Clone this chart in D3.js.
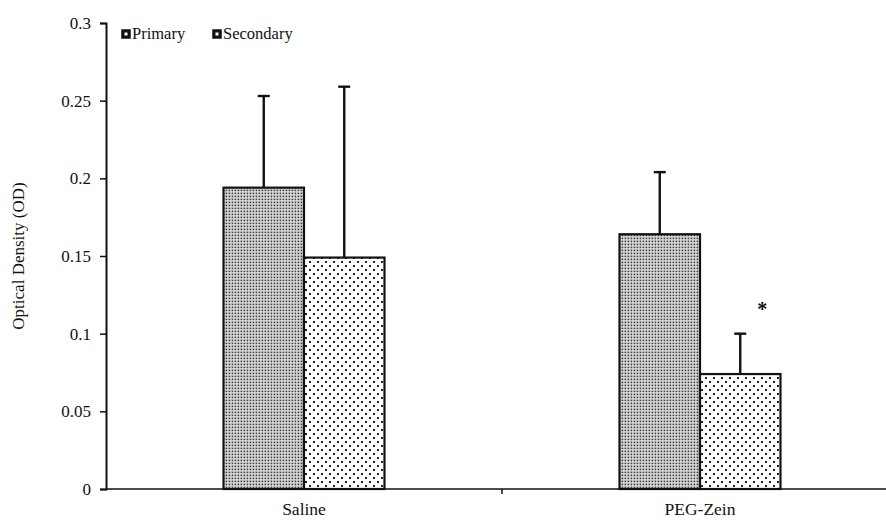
<!DOCTYPE html>
<html>
<head>
<meta charset="utf-8">
<script src="https://cdn.jsdelivr.net/npm/d3@7"></script>
<style>
  body { margin: 0; background: #fff; }
  text { font-family: "Liberation Serif", "Times New Roman", serif; fill: #111; }
</style>
</head>
<body>
<div id="chart"></div>
<script>
var categories = ["Saline", "PEG-Zein"];
var seriesNames = ["Primary", "Secondary"];
var primaryMeans = [0.194, 0.164];
var primaryErr = [0.059, 0.040];
var secondaryMeans = [0.149, 0.074];
var secondaryErr = [0.110, 0.026];
var yTicks = [0, 0.05, 0.1, 0.15, 0.2, 0.25, 0.3];
var yTickLabels = ["0", "0.05", "0.1", "0.15", "0.2", "0.25", "0.3"];
var marks = [{cat: "PEG-Zein", ser: "Secondary", text: "*"}];

var W = 886, H = 520;
var plotLeft = 106, plotBottom = 489, plotTop = 23, plotRight = 898;

var svg = d3.select("#chart").append("svg")
	.attr("width", W)
	.attr("height", H);

var defs = svg.append("defs");
var p1 = defs.append("pattern")
	.attr("id", "patPrimary")
	.attr("patternUnits", "userSpaceOnUse")
	.attr("width", 3).attr("height", 3);
p1.append("rect").attr("width", 3).attr("height", 3).attr("fill", "#dedede");
p1.append("rect").attr("x", 0.6).attr("y", 0.6).attr("width", 1.6).attr("height", 1.6).attr("fill", "#3a3a3a");

var p2 = defs.append("pattern")
	.attr("id", "patSecondary")
	.attr("patternUnits", "userSpaceOnUse")
	.attr("width", 8).attr("height", 8);
p2.append("rect").attr("width", 8).attr("height", 8).attr("fill", "#fff");
p2.append("rect").attr("x", 1).attr("y", 1).attr("width", 2).attr("height", 2).attr("fill", "#222");
p2.append("rect").attr("x", 5).attr("y", 5).attr("width", 2).attr("height", 2).attr("fill", "#222");

var fills = {"Primary": "url(#patPrimary)", "Secondary": "url(#patSecondary)"};

var x = d3.scaleBand()
	.domain(categories)
	.range([plotLeft, plotRight]);

var xs = d3.scaleBand()
	.domain(seriesNames)
	.range([0, x.bandwidth()])
	.paddingOuter(1.46);

var y = d3.scaleLinear()
	.domain([0, 0.3])
	.range([plotBottom, plotTop]);

// y axis
var yAxis = svg.append("g")
	.attr("transform", "translate(" + plotLeft + ",0)")
	.call(d3.axisLeft(y).tickValues(yTicks).tickSize(6)
		.tickFormat(function(d, i) { return yTickLabels[i]; }));
yAxis.select(".domain").attr("stroke", "#111").attr("stroke-width", 2);
yAxis.selectAll(".tick line").attr("stroke", "#111").attr("stroke-width", 1.5);
yAxis.selectAll(".tick text")
	.attr("x", -15)
	.style("font-family", "Liberation Serif, serif")
	.style("font-size", "17px")
	.attr("fill", "#111");

svg.append("text")
	.attr("transform", "translate(24," + ((plotTop + plotBottom) / 2) + ") rotate(-90)")
	.attr("text-anchor", "middle")
	.style("font-size", "17px")
	.text("Optical Density (OD)");

// data table
var rows = [];
categories.forEach(function(c, i) {
	rows.push({cat: c, ser: "Primary", v: primaryMeans[i], e: primaryErr[i]});
	rows.push({cat: c, ser: "Secondary", v: secondaryMeans[i], e: secondaryErr[i]});
});

function cx(d) { return x(d.cat) + xs(d.ser) + xs.bandwidth() / 2; }

// error bars (upper only)
var eb = svg.append("g").selectAll("g").data(rows).enter().append("g");
eb.append("line")
	.attr("x1", cx).attr("x2", cx)
	.attr("y1", function(d) { return y(d.v); })
	.attr("y2", function(d) { return y(d.v + d.e); })
	.attr("stroke", "#111").attr("stroke-width", 2.4);
eb.append("line")
	.attr("x1", function(d) { return cx(d) - 6; })
	.attr("x2", function(d) { return cx(d) + 6; })
	.attr("y1", function(d) { return y(d.v + d.e); })
	.attr("y2", function(d) { return y(d.v + d.e); })
	.attr("stroke", "#111").attr("stroke-width", 2.4);

// bars
svg.append("g").selectAll("rect").data(rows).enter().append("rect")
	.attr("x", function(d) { return x(d.cat) + xs(d.ser); })
	.attr("y", function(d) { return y(d.v); })
	.attr("width", xs.bandwidth())
	.attr("height", function(d) { return y(0) - y(d.v); })
	.attr("fill", function(d) { return fills[d.ser]; })
	.attr("stroke", "#111")
	.attr("stroke-width", 2.2);

// x axis
svg.append("line")
	.attr("x1", plotLeft).attr("x2", plotRight)
	.attr("y1", plotBottom).attr("y2", plotBottom)
	.attr("stroke", "#111").attr("stroke-width", 1.5);
categories.forEach(function(c, i) {
	if (i > 0) {
		svg.append("line")
			.attr("x1", x(c)).attr("x2", x(c))
			.attr("y1", plotBottom).attr("y2", plotBottom + 5)
			.attr("stroke", "#111").attr("stroke-width", 1.5);
	}
});
svg.append("g").selectAll("text").data(categories).enter().append("text")
	.attr("x", function(d) { return x(d) + x.bandwidth() / 2; })
	.attr("y", plotBottom + 26)
	.attr("text-anchor", "middle")
	.style("font-size", "17.5px")
	.text(function(d) { return d; });

// significance marks
marks.forEach(function(m) {
	var r = rows.filter(function(d) { return d.cat === m.cat && d.ser === m.ser; })[0];
	svg.append("text")
		.attr("x", cx(r) + 22)
		.attr("y", y(r.v + r.e) - 18)
		.attr("text-anchor", "middle")
		.style("font-size", "20px")
		.style("font-weight", "bold")
		.text(m.text);
});

// legend
var legend = svg.append("g").selectAll("g").data(seriesNames).enter().append("g")
	.attr("transform", function(d, i) { return "translate(" + (122 + i * 91) + ",30)"; });
legend.append("rect")
	.attr("width", 8).attr("height", 8)
	.attr("fill", "#111")
	.attr("stroke", "#111").attr("stroke-width", 1.5);
legend.append("rect")
	.attr("x", 2.5).attr("y", 2.5)
	.attr("width", 3).attr("height", 3)
	.attr("fill", "#fff");
legend.append("text")
	.attr("x", 10).attr("y", 9)
	.style("font-size", "16.5px")
	.text(function(d) { return d; });
</script>
</body>
</html>
